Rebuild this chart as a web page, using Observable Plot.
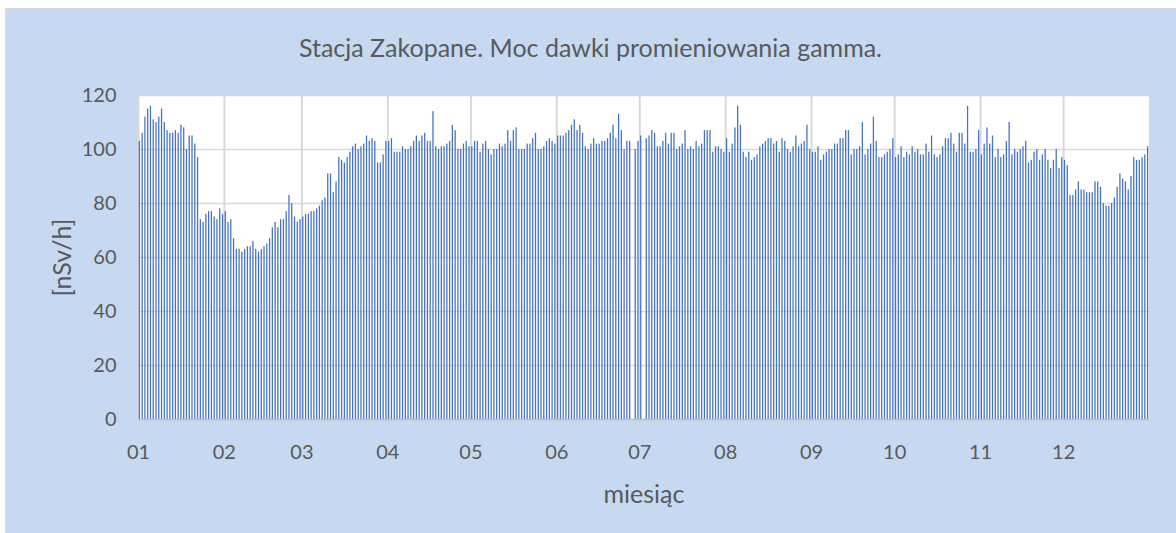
<!DOCTYPE html>
<html>
<head>
<meta charset="utf-8">
<script src="https://cdn.jsdelivr.net/npm/d3@7"></script>
<script src="https://cdn.jsdelivr.net/npm/@observablehq/plot@0.6"></script>
<style>
  html, body { margin: 0; padding: 0; background: #ffffff; width: 1176px; height: 533px; overflow: hidden; }
  #chart { position: absolute; left: 5px; top: 8px; right: 0; bottom: 0; background: #c6d9f1;
           border-left: 1px solid #d9d9d9; border-top: 1px solid #d9d9d9; }
  #title { position: absolute; left: 5px; width: 1171px; top: 32px; text-align: center;
           font-family: Lato, sans-serif; font-size: 25px; line-height: 30px; color: #595959; }
  #plot { position: absolute; left: 0; top: 80px; }
</style>
</head>
<body>
<div id="chart"></div>
<div id="title">Stacja Zakopane. Moc dawki promieniowania gamma.</div>
<div id="plot"></div>
<script>
const monthLabels = ["01","02","03","04","05","06","07","08","09","10","11","12"];
const yTicks = [0, 20, 40, 60, 80, 100, 120];
const xLabel = "miesiąc";
const yLabel = "[nSv/h]";

const m01 = [103,106,112,115,116,111,110,112,115,110,107,106,106,107,106,109,108,100,105,105,102,97,74,73,76,77,77,75,74,78,76];
const m02 = [77,73,74,67,63,63,62,63,64,64,66,63,62,63,64,65,67,71,73,71,74,74,77,83,80,75,73,74];
const m03 = [75,76,76,77,77,78,79,81,82,91,91,84,88,97,96,95,97,99,101,102,100,101,102,105,103,104,103,95,95,98,103];
const m04 = [103,104,99,99,99,101,100,100,101,103,105,103,105,106,103,103,114,101,100,101,101,102,103,109,107,100,100,102,103,101];
const m05 = [101,103,103,99,102,103,100,98,100,100,102,101,102,107,103,107,108,100,100,100,102,102,104,106,100,100,101,103,104,103,102];
const m06 = [105,105,105,106,107,109,111,107,109,106,101,100,102,104,102,102,103,103,104,106,109,104,113,107,100,103,103,null,100,103];
const m07 = [105,null,104,105,107,106,101,101,103,106,102,106,106,100,101,102,107,100,101,100,103,101,102,107,107,107,99,101,101,100,99];
const m08 = [104,99,102,108,116,109,99,97,99,96,97,98,101,102,103,104,104,102,103,99,104,103,100,99,101,105,101,102,103,109,100];
const m09 = [99,99,101,96,98,99,100,100,102,102,104,104,107,107,98,100,100,101,110,98,100,102,112,103,97,97,98,99,100,104];
const m10 = [97,98,101,97,99,98,101,99,100,98,98,102,99,105,98,97,98,101,104,104,106,102,99,106,106,102,116,99,99,100,107];
const m11 = [98,102,108,102,105,97,100,97,98,103,110,98,100,99,100,101,103,95,96,99,100,96,98,100,96,93,96,100,93,97];
const m12 = [96,94,83,83,85,88,85,85,84,84,84,88,88,86,80,79,79,80,82,86,91,89,88,85,90,97,96,96,97,98,101];

const months = [m01,m02,m03,m04,m05,m06,m07,m08,m09,m10,m11,m12];
const data = [];
months.forEach((arr, k) => arr.forEach((v, j) => {
  if (v != null) data.push({date: new Date(Date.UTC(2023, k, j + 1)), value: v});
}));
const monthStarts = monthLabels.map((m, k) => new Date(Date.UTC(2023, k, 1)));

const chart = Plot.plot({
  width: 1176, height: 453,
  marginLeft: 138, marginRight: 27, marginTop: 15, marginBottom: 114,
  x: {type: "utc", domain: [new Date(Date.UTC(2023, 0, 1)), new Date(Date.UTC(2024, 0, 1))]},
  y: {domain: [0, 120]},
  style: {background: "transparent", fontFamily: "Lato, sans-serif", color: "#595959", overflow: "visible"},
  marks: [
    Plot.frame({fill: "white", stroke: "#d9d9d9"}),
    Plot.gridY(yTicks, {stroke: "#d9d9d9", strokeOpacity: 1, strokeWidth: 1.5}),
    Plot.gridX(monthStarts, {stroke: "#d9d9d9", strokeOpacity: 1, strokeWidth: 2}),
    Plot.rectY(data, {x1: "date", x2: d => d3.utcDay.offset(d.date, 1), y1: 0, y2: "value",
                      fill: "#4472c4", insetLeft: 0.75, insetRight: 0.75}),
    Plot.ruleY([0], {stroke: "#bfbfbf", strokeWidth: 1.5}),
    Plot.axisY(yTicks, {tickSize: 0, tickPadding: 22, fontSize: 20, label: null, fill: "#595959"}),
    Plot.axisX(monthStarts, {tickSize: 0, tickPadding: 25, fontSize: 20, label: null, fill: "#595959",
                             tickFormat: d => monthLabels[d.getUTCMonth()]}),
    Plot.text([xLabel], {frameAnchor: "bottom", dy: 75, fontSize: 25, fill: "#595959", lineAnchor: "middle"}),
    Plot.text([yLabel], {frameAnchor: "left", dx: -76, rotate: -90, textAnchor: "middle", fontSize: 25,
                         fill: "#595959", lineAnchor: "middle"})
  ]
});
document.getElementById("plot").appendChild(chart);
</script>
</body>
</html>
